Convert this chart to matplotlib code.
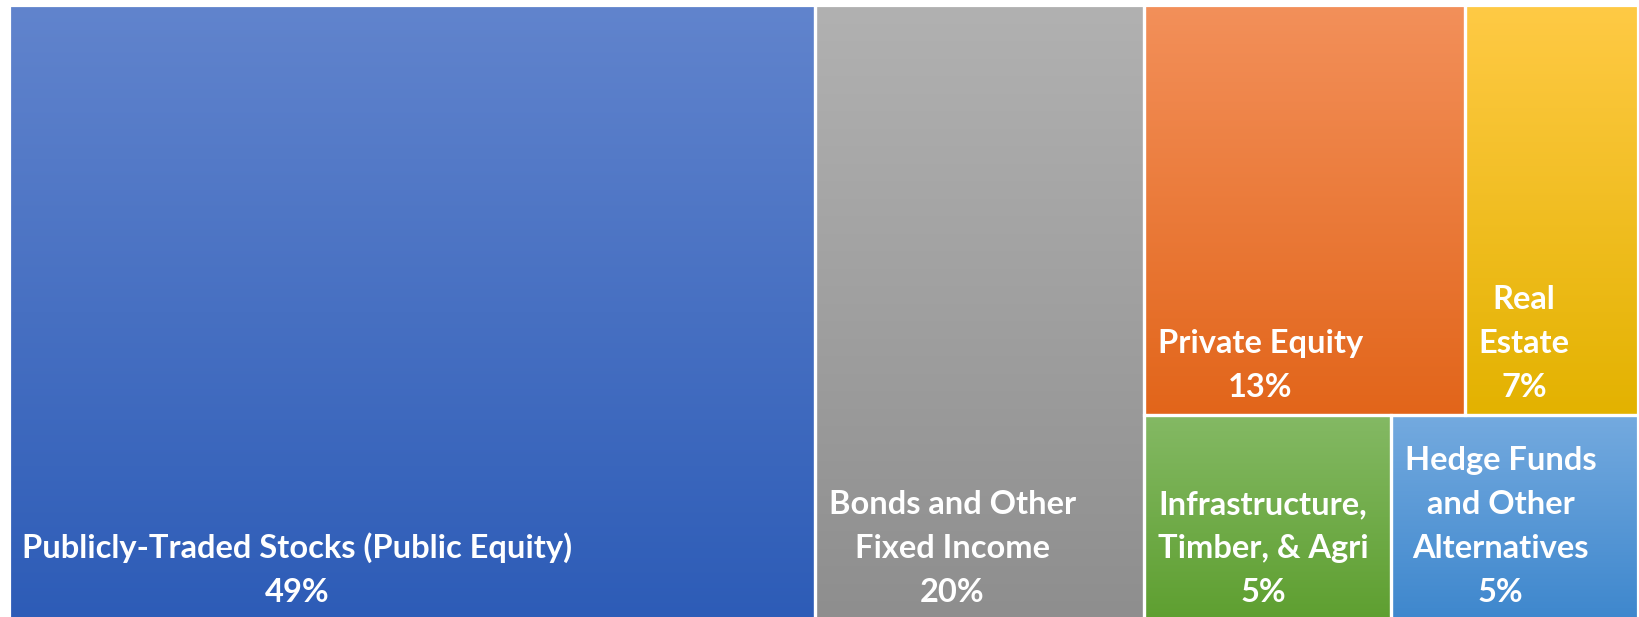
import matplotlib.pyplot as plt
import numpy as np
from matplotlib.colors import to_rgb
from matplotlib.patches import Rectangle

labels = ['Publicly-Traded Stocks (Public Equity)',
          'Bonds and Other\nFixed Income',
          'Private Equity',
          'Real\nEstate',
          'Infrastructure,\nTimber, & Agri',
          'Hedge Funds\nand Other\nAlternatives']
values = [49, 20, 13, 7, 5, 5]
top_colors = ['#6184CD', '#B1B1B1', '#F3905A', '#FFCA45', '#84B964', '#74AADF']
bottom_colors = ['#2D5CB7', '#8E8E8E', '#E2651A', '#E3B200', '#5E9F30', '#3E87CD']

# treemap structure: columns -> rows -> item indices
groups = [[[0]], [[1]], [[2, 3], [4, 5]]]


def gradient(c_top, c_bot, n=256):
    a = np.array(to_rgb(c_top))
    b = np.array(to_rgb(c_bot))
    t = np.linspace(0, 1, n)[:, None]
    return (a + (b - a) * t).reshape(n, 1, 3)


def layout(groups, values):
    total = float(sum(values))
    rects = {}
    x = 0.0
    for col in groups:
        col_sum = sum(values[i] for row in col for i in row)
        w = col_sum / total
        y = 1.0
        for row in col:
            row_sum = sum(values[i] for i in row)
            h = row_sum / col_sum
            xx = x
            for i in row:
                ww = w * values[i] / row_sum
                rects[i] = (xx, y - h, ww, h)
                xx += ww
            y -= h
        x += w
    return rects


fig = plt.figure(figsize=(16.39, 6.17), dpi=100)
ax = fig.add_axes([8.5 / 1639, -3 / 617, 1629 / 1639, 615 / 617])

rects = layout(groups, values)
for i, (x0, y0, w, h) in rects.items():
    ax.imshow(gradient(top_colors[i], bottom_colors[i]), extent=(x0, x0 + w, y0, y0 + h),
              origin='upper', aspect='auto', interpolation='bilinear', zorder=1)
    ax.add_patch(Rectangle((x0, y0), w, h, fill=False, edgecolor='white', lw=2.3, zorder=2))
    ax.annotate(labels[i] + '\n' + '%d%%' % values[i], xy=(x0, y0), xytext=(10, 9.5),
                textcoords='offset points', ha='left', va='bottom', multialignment='center',
                color='white', fontsize=23.5, fontweight='bold', family=['Lato', 'DejaVu Sans'],
                linespacing=1.62, zorder=3)

ax.set_xlim(0, 1)
ax.set_ylim(0, 1)
ax.axis('off')

fig.savefig('out.png', dpi=100)
